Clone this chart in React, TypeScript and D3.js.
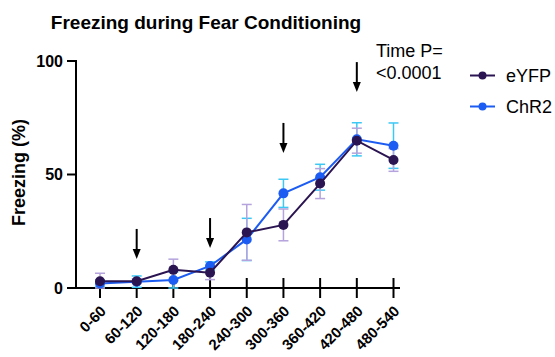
import React from "react";
import * as d3 from "d3";

const categories = ["0-60", "60-120", "120-180", "180-240", "240-300", "300-360", "360-420", "420-480", "480-540"];
const eyfpMean = [3, 3, 8, 6.7, 24.5, 27.8, 46, 64.9, 56.4];
const eyfpErr = [3.5, 1, 4.7, 3, 12.3, 7, 6.6, 5.5, 5];
const chr2Mean = [2, 2.8, 3.5, 9.7, 21.4, 41.7, 48.8, 65.5, 62.7];
const chr2Err = [1.5, 2.5, 3.5, 1.8, 9.3, 6.2, 5.7, 7.3, 10];
const yTicks = [0, 50, 100];
const arrowCats = ["60-120", "180-240", "300-360", "420-480"];
const arrowTips = [12.8, 17.6, 59.5, 86.3];

const FONT = "'Liberation Sans', Arial, sans-serif";

export default function App() {
  const x = d3.scalePoint<string>().domain(categories).range([100, 393.5]);
  const y = d3.scaleLinear().domain([0, 100]).range([288, 61]);
  const line = d3
    .line<number>()
    .x((_, i) => x(categories[i]) as number)
    .y((d) => y(d));

  const series = [
    { name: "ChR2", mean: chr2Mean, err: chr2Err, color: "#1c5cf2", errColor: "#3cc8f5" },
    { name: "eYFP", mean: eyfpMean, err: eyfpErr, color: "#2b1452", errColor: "#b4a3dc" },
  ];

  return (
    <svg width={555} height={357} style={{ position: "absolute", left: 0, top: 0 }}>
      <rect width={555} height={357} fill="#fff" />
      <text x={206} y={29} textAnchor="middle" fontFamily={FONT} fontWeight="bold" fontSize={19}>
        Freezing during Fear Conditioning
      </text>
      {/* y axis */}
      <line x1={76} x2={76} y1={y(100) - 1} y2={y(0)} stroke="#000" strokeWidth={2} />
      {yTicks.map((t) => (
        <g key={t}>
          <line x1={67} x2={76} y1={y(t)} y2={y(t)} stroke="#000" strokeWidth={2} />
          <text x={63} y={y(t) + 5.5} textAnchor="end" fontFamily={FONT} fontWeight="bold" fontSize={16}>
            {t}
          </text>
        </g>
      ))}
      <text
        transform={`translate(25,172.5) rotate(-90)`}
        textAnchor="middle"
        fontFamily={FONT}
        fontWeight="bold"
        fontSize={18}
      >
        Freezing (%)
      </text>
      {/* x axis */}
      <line x1={67} x2={400} y1={y(0)} y2={y(0)} stroke="#000" strokeWidth={2} />
      {categories.map((c) => (
        <g key={c}>
          <line x1={x(c)} x2={x(c)} y1={278} y2={298} stroke="#000" strokeWidth={2} />
          <text
            transform={`translate(${(x(c) as number) + 7},${312}) rotate(-45)`}
            textAnchor="end"
            fontFamily={FONT}
            fontWeight="bold"
            fontSize={15}
          >
            {c}
          </text>
        </g>
      ))}
      {/* error bars */}
      {series.map((s) => (
        <g key={s.name + "err"}>
          {s.mean.map((m, i) => {
            const cx = x(categories[i]) as number;
            const top = y(m + s.err[i]);
            const bot = y(Math.max(0, m - s.err[i]));
            return (
              <g key={i} stroke={s.errColor} strokeWidth={1.5}>
                <line x1={cx} x2={cx} y1={top} y2={bot} />
                <line x1={cx - 5} x2={cx + 5} y1={top} y2={top} />
                <line x1={cx - 5} x2={cx + 5} y1={bot} y2={bot} />
              </g>
            );
          })}
        </g>
      ))}
      {/* lines */}
      {series.map((s) => (
        <g key={s.name}>
          <path d={line(s.mean) as string} fill="none" stroke={s.color} strokeWidth={2} />
          {s.mean.map((m, i) => (
            <circle key={i} cx={x(categories[i])} cy={y(m)} r={5} fill={s.color} />
          ))}
        </g>
      ))}
      {/* arrows */}
      {arrowCats.map((c, i) => {
        const ax = x(c) as number;
        const tip = y(arrowTips[i]);
        return (
          <g key={c}>
            <line x1={ax} x2={ax} y1={tip - 30} y2={tip - 8} stroke="#000" strokeWidth={2} />
            <path d={`M${ax - 4},${tip - 10} L${ax + 4},${tip - 10} L${ax},${tip} Z`} fill="#000" />
          </g>
        );
      })}
      {/* annotation */}
      <text x={376} y={57} fontFamily={FONT} fontSize={18}>
        Time P=
      </text>
      <text x={376} y={78.5} fontFamily={FONT} fontSize={18}>
        &lt;0.0001
      </text>
      {/* legend */}
      {[
        { name: "eYFP", color: "#2b1452", yy: 75.5 },
        { name: "ChR2", color: "#1c5cf2", yy: 106.5 },
      ].map((l) => (
        <g key={l.name}>
          <line x1={470} x2={495} y1={l.yy} y2={l.yy} stroke={l.color} strokeWidth={2} />
          <circle cx={482.5} cy={l.yy} r={4} fill={l.color} />
          <text x={506} y={l.yy + 6.5} fontFamily={FONT} fontSize={18}>
            {l.name}
          </text>
        </g>
      ))}
    </svg>
  );
}
